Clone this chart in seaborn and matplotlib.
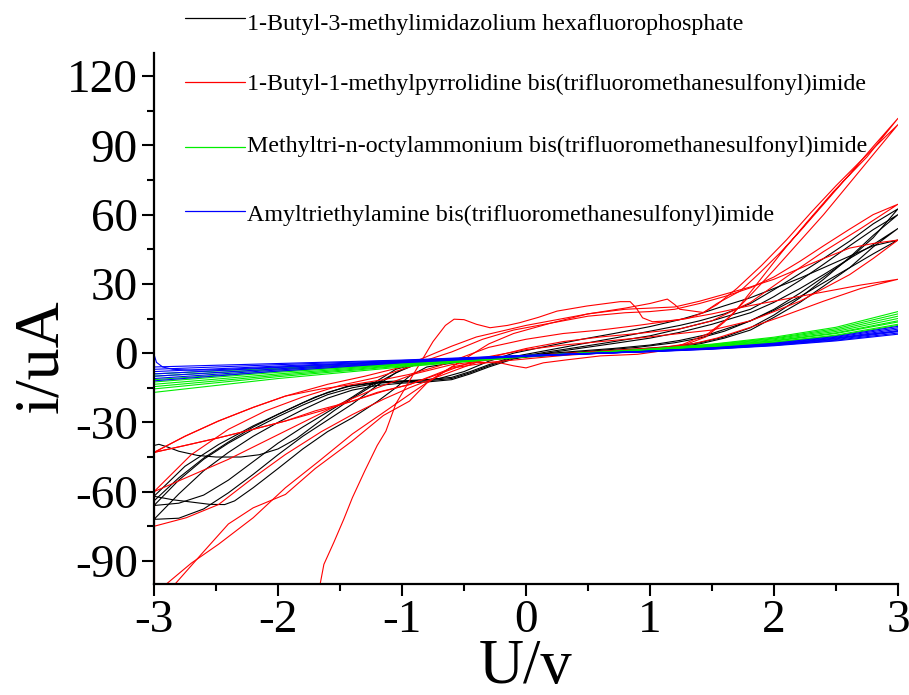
import matplotlib
matplotlib.use("Agg")
import matplotlib.pyplot as plt
from matplotlib.lines import Line2D
from matplotlib.ticker import MultipleLocator
import pandas as pd
import seaborn as sns

# ---- data: (U / V, i / uA) ----
bmim_1 = [(-3, -66), (-2.8, -55), (-2.6, -46), (-2.4, -39), (-2.2, -33), (-2.0, -27.5), (-1.8, -22.5),
          (-1.6, -18), (-1.4, -15), (-1.2, -13), (-1.0, -12.5), (-0.8, -12), (-0.6, -11), (-0.45, -8.5),
          (-0.3, -5.5), (-0.1, -2), (0.17, 0.5), (0.45, 2.8), (0.71, 5), (1.0, 7.5), (1.24, 10.5),
          (1.5, 14), (1.81, 19), (2.0, 24.5), (2.21, 31.5), (2.4, 38.5), (2.61, 46.5), (2.8, 53.5), (3, 60),
          (2.8, 51), (2.61, 41.5), (2.4, 32), (2.21, 24), (2.0, 16.5), (1.81, 11), (1.6, 7), (1.4, 4.5),
          (1.2, 3), (0.9, 1.8), (0.6, 0.8), (0.3, -0.3), (0, -1.3), (-0.3, -2.3), (-0.6, -3.3), (-0.9, -4.8),
          (-1.05, -7), (-1.2, -12), (-1.4, -19), (-1.6, -25.5), (-1.8, -32), (-2.0, -39), (-2.2, -47),
          (-2.4, -55), (-2.6, -61.5), (-2.8, -65), (-3, -66)]
bmim_2 = [(-3, -72), (-2.8, -61), (-2.6, -51), (-2.4, -43), (-2.2, -36), (-2.0, -30), (-1.8, -24.5),
          (-1.6, -19.5), (-1.4, -16), (-1.2, -14), (-1.0, -13), (-0.8, -12.5), (-0.6, -11.5), (-0.45, -9),
          (-0.3, -6), (-0.1, -2.5), (0.17, 0), (0.45, 2.2), (0.71, 4.2), (1.0, 6.5), (1.24, 9), (1.5, 12.5),
          (1.81, 17.5), (2.0, 22), (2.21, 28), (2.4, 34), (2.61, 41), (2.8, 47), (3, 54),
          (2.8, 46), (2.61, 37), (2.4, 29), (2.21, 22), (2.0, 15.5), (1.81, 10), (1.6, 6.5), (1.4, 4),
          (1.2, 2.5), (0.9, 1.2), (0.6, 0.3), (0.3, -0.7), (0, -1.7), (-0.3, -2.7), (-0.6, -3.7),
          (-0.9, -5.2), (-1.05, -8.5), (-1.2, -14), (-1.4, -22), (-1.6, -29), (-1.8, -36), (-2.0, -44),
          (-2.2, -52.5), (-2.4, -60.5), (-2.6, -67.5), (-2.8, -71.5), (-3, -72)]
bmim_3 = [(-3, -40), (-2.96, -39.5), (-2.9, -40.5), (-2.8, -42.5), (-2.65, -44.3), (-2.5, -45), (-2.3, -45),
          (-2.15, -44), (-2.0, -41.5), (-1.85, -37), (-1.7, -31), (-1.55, -25), (-1.4, -19.5), (-1.25, -14.5),
          (-1.1, -10), (-0.94, -5.5), (-0.7, -3.8), (-0.4, -2.8), (0, -1.2), (0.3, 0), (0.6, 1.2), (0.9, 2.5),
          (1.2, 4.5), (1.4, 6.5), (1.6, 9.5), (1.81, 14), (2.0, 19), (2.21, 26), (2.4, 33), (2.61, 41),
          (2.8, 50), (3, 62.5),
          (2.8, 56), (2.61, 48.5), (2.4, 41), (2.21, 34.5), (2.0, 27.5), (1.81, 21.5), (1.6, 17), (1.4, 14),
          (1.24, 12), (1.0, 9.5), (0.71, 6.5), (0.45, 4), (0.17, 1.2), (-0.1, -1.5), (-0.3, -5), (-0.45, -8),
          (-0.6, -10.5), (-0.8, -11.5), (-1.0, -12), (-1.2, -12.5), (-1.4, -14), (-1.6, -17), (-1.8, -21.5),
          (-2.0, -26.5), (-2.2, -32), (-2.4, -38.5), (-2.6, -45.5), (-2.8, -54), (-3, -64)]
bmim_4 = [(-3, -62), (-2.85, -63.5), (-2.7, -64.5), (-2.55, -65.5), (-2.43, -65.6), (-2.35, -64),
          (-2.2, -58.3), (-2.0, -50), (-1.8, -41.5), (-1.6, -34), (-1.4, -28), (-1.2, -21), (-1.05, -15),
          (-0.94, -10), (-0.8, -6), (-0.5, -3.5), (-0.2, -2), (0.1, -0.5), (0.4, 0.8), (0.7, 2), (1.0, 3.5),
          (1.24, 5.5), (1.5, 8.5), (1.81, 14), (2.0, 18.5), (2.21, 24.5), (2.4, 30.5), (2.61, 37), (2.8, 43),
          (3, 49),
          (2.8, 46.5), (2.61, 42), (2.4, 37), (2.21, 32.5), (2.0, 28), (1.81, 24), (1.6, 20.5), (1.4, 17),
          (1.24, 14.5), (1.0, 11.5), (0.71, 8.5), (0.45, 6), (0.17, 3), (-0.1, 0), (-0.3, -3.5), (-0.5, -8),
          (-0.7, -11), (-0.95, -12.2), (-1.2, -12.8), (-1.45, -14.5), (-1.7, -19), (-1.94, -25), (-2.2, -31.5),
          (-2.48, -39.6), (-2.75, -49), (-3, -62)]

pyr_1 = [(-1.66, -100), (-1.63, -91.5), (-1.55, -82), (-1.47, -72), (-1.4, -62.6), (-1.3, -51), (-1.2, -40),
         (-1.13, -33.8), (-1.05, -22), (-0.94, -12), (-0.85, -4), (-0.75, 5), (-0.65, 12), (-0.58, 14.7),
         (-0.5, 14.5), (-0.4, 12.5), (-0.29, 11), (-0.15, 12), (-0.05, 13.2), (0.1, 15.5), (0.25, 18.2),
         (0.49, 20.4), (0.76, 22.3), (0.84, 22.3), (0.89, 19.5), (0.94, 15.3), (1.02, 13.6), (1.15, 14),
         (1.3, 15), (1.43, 17.5), (1.54, 21.5), (1.73, 27), (1.89, 35), (2.05, 43.5), (2.21, 52.8), (2.4, 64.5),
         (2.61, 77.5), (2.8, 89.5), (3, 101.7),
         (2.75, 85), (2.48, 70), (2.27, 57), (2.07, 44.2), (1.87, 30.5), (1.67, 16.9), (1.47, 8.5), (1.27, 3.9),
         (1.1, 1), (0.9, -0.5), (0.6, -1.2), (0.33, -2.9), (0.14, -4.2), (0, -6.4), (-0.1, -5.5), (-0.21, -4.2),
         (-0.4, -4), (-0.6, -6), (-0.75, -11), (-0.94, -17.9), (-1.13, -25), (-1.4, -35), (-1.67, -46.8),
         (-1.94, -58.3), (-2.2, -71.3), (-2.48, -82.8), (-2.7, -91), (-2.9, -100)]
pyr_2 = [(-2.83, -100), (-2.6, -86), (-2.4, -74), (-2.2, -67), (-1.94, -61.2), (-1.7, -50), (-1.4, -38),
         (-1.15, -27), (-0.94, -20.8), (-0.8, -13), (-0.6, -6), (-0.45, -1), (-0.3, 4), (-0.1, 8.5), (0.2, 13),
         (0.5, 17), (0.8, 19.5), (1.0, 21.5), (1.14, 23.4), (1.2, 21), (1.24, 19), (1.43, 17.6), (1.54, 21),
         (1.7, 28), (1.9, 38), (2.1, 49), (2.3, 61), (2.5, 72.5), (2.75, 86), (3, 99),
         (2.8, 86), (2.6, 73), (2.4, 60), (2.2, 48), (2.0, 36), (1.8, 24.5), (1.6, 13.5), (1.45, 7), (1.3, 4),
         (1.1, 2.5), (0.8, 1.5), (0.5, 0.5), (0.2, -0.5), (0, -1.5), (-0.3, -3), (-0.6, -5), (-0.9, -9),
         (-1.2, -15), (-1.5, -22), (-1.8, -30), (-2.1, -38), (-2.4, -46), (-2.7, -53), (-3, -60)]
pyr_3 = [(-3, -75), (-2.74, -71.3), (-2.48, -65.6), (-2.2, -54), (-1.94, -43.9), (-1.65, -34), (-1.4, -26.6),
         (-1.15, -20), (-0.94, -15), (-0.7, -10), (-0.5, -6), (-0.3, -2), (0, 2), (0.3, 5), (0.6, 7), (0.9, 8.5),
         (1.24, 10.5), (1.5, 14), (1.81, 22), (2.1, 33), (2.4, 44), (2.7, 54), (3, 64.5),
         (2.8, 60), (2.61, 53.7), (2.4, 46.5), (2.21, 39.8), (2.0, 33), (1.81, 28.3), (1.6, 24.5), (1.4, 21.5),
         (1.2, 19), (1.0, 18), (0.8, 17.5), (0.5, 16), (0.2, 13), (-0.1, 10), (-0.35, 6), (-0.6, 0.5),
         (-0.8, -3), (-0.94, -6), (-1.2, -10.5), (-1.5, -14), (-1.8, -19), (-2.1, -25), (-2.4, -33),
         (-2.7, -44), (-3, -60)]
pyr_4 = [(-3, -43), (-2.75, -40), (-2.48, -36.7), (-2.2, -33), (-1.94, -29.4), (-1.65, -25), (-1.4, -20.8),
         (-1.15, -16.5), (-0.94, -13.6), (-0.7, -9), (-0.5, -5), (-0.3, -1.5), (0, 1.5), (0.3, 3.5), (0.6, 5),
         (0.9, 6.5), (1.24, 8.5), (1.5, 10), (1.81, 14), (2.0, 18), (2.21, 22.5), (2.4, 28), (2.61, 34),
         (2.8, 41), (3, 49),
         (2.8, 47.5), (2.61, 45.5), (2.4, 41), (2.2, 36.5), (2.0, 32), (1.8, 28.5), (1.6, 25.5), (1.4, 22.5),
         (1.2, 20), (1.0, 19.5), (0.8, 19), (0.5, 17), (0.2, 14), (0, 12), (-0.2, 9.5), (-0.4, 7), (-0.6, 3),
         (-0.8, -1.5), (-1.0, -6), (-1.3, -10), (-1.6, -13.5), (-1.94, -18.6), (-2.2, -23.5), (-2.48, -29.4),
         (-2.75, -36), (-3, -43)]
pyr_5 = [(-3, -43), (-2.75, -36), (-2.48, -29.4), (-2.2, -23.5), (-1.94, -18.6), (-1.65, -15.5), (-1.4, -13.6),
         (-1.15, -11.5), (-0.94, -9.2), (-0.7, -5.5), (-0.5, -1.5), (-0.3, 2.5), (0, 6), (0.3, 8.5), (0.6, 10),
         (0.9, 12), (1.24, 14.5), (1.5, 17), (1.8, 20.5), (2.1, 23.5), (2.4, 26.5), (2.7, 29.5), (3, 32),
         (2.7, 28), (2.4, 22.5), (2.07, 16), (1.8, 11), (1.54, 6.5), (1.3, 3.5), (1.0, 1.5), (0.6, 0),
         (0.3, -1), (0, -2.5), (-0.3, -4), (-0.6, -6.5), (-0.94, -13.6), (-1.2, -17), (-1.4, -20.8),
         (-1.7, -25), (-1.94, -29.4), (-2.2, -33), (-2.48, -36.7), (-2.75, -40), (-3, -43)]
pyr_6 = [(-3, -60), (-3, -100)]

# methyltrioctylammonium and amyltriethylamine scans share these potentials
scan_u = [-3, -2, -1, 0, 0.5, 1, 1.5, 2, 2.5, 3]
octyl_scans = [
    [-9.0, -6.5, -4.0, -1.0, 0.0, 1.2, 2.7, 4.6, 7.5, 12.0],
    [-10.0, -7.0, -4.3, -1.1, 0.0, 1.2, 2.8, 4.8, 7.8, 12.5],
    [-11.5, -7.8, -4.6, -1.2, 0.0, 1.3, 3.0, 5.2, 8.5, 13.5],
    [-12.5, -8.3, -4.8, -1.3, 0.0, 1.4, 3.1, 5.4, 8.8, 14.0],
    [-13.5, -9.0, -5.0, -1.3, 0.1, 1.5, 3.3, 5.8, 9.4, 15.0],
    [-14.5, -9.6, -5.3, -1.4, 0.1, 1.6, 3.5, 6.2, 10.0, 16.0],
    [-15.5, -10.2, -5.6, -1.5, 0.1, 1.7, 3.7, 6.5, 10.6, 17.0],
    [-17.0, -11.0, -6.0, -1.6, 0.2, 1.8, 3.9, 6.9, 11.2, 18.0],
]
amyl_scans = [
    [-6.0, -4.5, -3.0, -1.0, -0.2, 0.6, 1.7, 3.2, 5.3, 8.2],
    [-7.0, -5.0, -3.2, -1.1, -0.2, 0.7, 1.8, 3.4, 5.6, 8.7],
    [-8.0, -5.6, -3.4, -1.1, -0.2, 0.7, 1.9, 3.5, 5.9, 9.3],
    [-9.0, -6.2, -3.6, -1.2, -0.2, 0.8, 2.0, 3.7, 6.2, 9.8],
    [-10.0, -6.8, -3.8, -1.3, -0.3, 0.8, 2.1, 3.9, 6.5, 10.4],
    [-11.0, -7.3, -4.0, -1.3, -0.3, 0.9, 2.2, 4.1, 6.9, 11.0],
    [-12.0, -7.8, -4.2, -1.4, -0.3, 0.9, 2.3, 4.3, 7.2, 11.6],
]
amyl_hook = [(-3, -0.5), (-2.98, -4), (-2.93, -6), (-2.85, -7), (-2.7, -7.4), (-2.5, -7.2), (-2, -6),
             (-1, -3.5), (0, -1), (1, 0.8), (2, 3.6), (3, 9.5)]

labels = [
    "1-Butyl-3-methylimidazolium hexafluorophosphate",
    "1-Butyl-1-methylpyrrolidine bis(trifluoromethanesulfonyl)imide",
    "Methyltri-n-octylammonium bis(trifluoromethanesulfonyl)imide",
    "Amyltriethylamine bis(trifluoromethanesulfonyl)imide",
]
colors = ["#000000", "#ff0000", "#00ee00", "#0000ff"]


def build_frame():
    curves = {
        labels[0]: [bmim_1, bmim_2, bmim_3, bmim_4],
        labels[1]: [pyr_1, pyr_2, pyr_3, pyr_4, pyr_5, pyr_6],
        labels[2]: [list(zip(scan_u, s)) for s in octyl_scans],
        labels[3]: [list(zip(scan_u, s)) for s in amyl_scans] + [amyl_hook],
    }
    rows = []
    for liquid, cycles in curves.items():
        for n, cycle in enumerate(cycles):
            for u, i in cycle:
                rows.append({"U": u, "I": i, "liquid": liquid, "curve": f"{liquid}_{n}"})
    return pd.DataFrame(rows)


df = build_frame()

sns.set_style("ticks")
plt.rcParams["font.family"] = ["Liberation Serif", "DejaVu Serif"]
plt.rcParams["axes.unicode_minus"] = False
for key in ["text.color", "axes.labelcolor", "axes.edgecolor", "xtick.color", "ytick.color"]:
    plt.rcParams[key] = "black"

fig = plt.figure(figsize=(9.09, 6.95), dpi=100)
ax = fig.add_axes([154 / 909, 111 / 695, 744 / 909, 531 / 695])

sns.lineplot(data=df, x="U", y="I", hue="liquid", units="curve", estimator=None, sort=False,
             hue_order=labels, palette=dict(zip(labels, colors)), linewidth=0.8, legend=False, ax=ax)

ax.set_xlim(-3, 3)
ax.set_ylim(-100, 130)
ax.set_xticks([-3, -2, -1, 0, 1, 2, 3])
ax.set_yticks([-90, -60, -30, 0, 30, 60, 90, 120])
ax.xaxis.set_minor_locator(MultipleLocator(0.5))
ax.yaxis.set_minor_locator(MultipleLocator(15))
ax.tick_params(which="major", length=8.5, width=1.5, labelsize=34, pad=3, direction="out")
ax.tick_params(which="minor", length=5, width=1.5, direction="out")
sns.despine(ax=ax)
for side in ["left", "bottom"]:
    ax.spines[side].set_linewidth(1.6)

ax.set_xlabel("U/v", fontsize=45)
ax.xaxis.set_label_coords(0.5, -0.104)
ax.set_ylabel("i/uA", fontsize=46)
ax.yaxis.set_label_coords(-0.112, 0.43)

# legend drawn at the top, overlapping the axes, as in the source figure
line_y = [18, 82, 147, 211]
base_y = [30, 90, 152, 221]
for label, color, ly, by in zip(labels, colors, line_y, base_y):
    fig.add_artist(Line2D([185 / 909, 245 / 909], [1 - ly / 695, 1 - ly / 695],
                          color=color, lw=0.9, transform=fig.transFigure))
    fig.text(247 / 909, 1 - by / 695, label, fontsize=17.3, va="baseline", ha="left")

fig.savefig("out.png", dpi=100)
